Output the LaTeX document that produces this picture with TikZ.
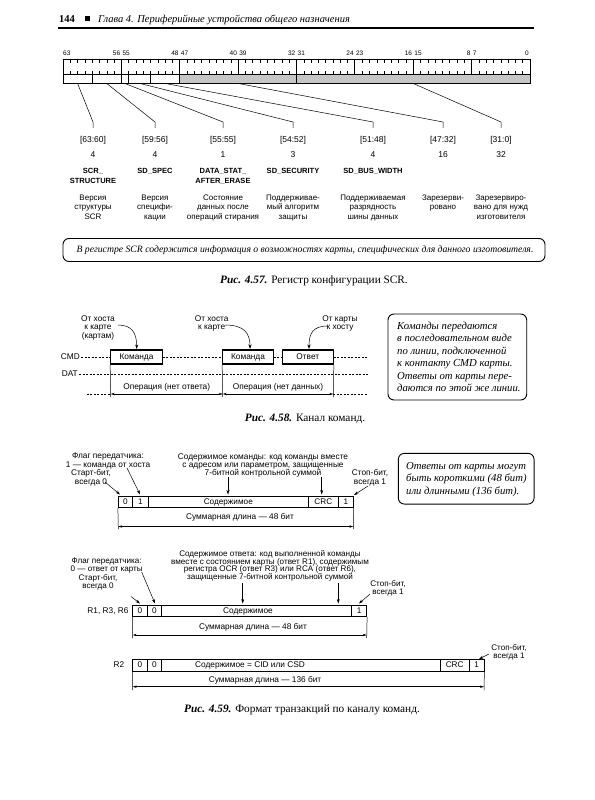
\documentclass[tikz,border=0pt]{standalone}
\usepackage{fontspec}
\setmainfont{Liberation Serif}
\setsansfont{Liberation Sans}
\usetikzlibrary{arrows.meta}
\begin{document}
\begin{tikzpicture}[x=1pt,y=-1pt,
  every node/.style={inner sep=0pt},
  sf/.style={font=\sffamily\fontsize{8.3}{8.3}\selectfont, align=center},
  sft/.style={font=\sffamily\fontsize{8.1}{7.7}\selectfont, align=center},
  bitno/.style={font=\sffamily\fontsize{6.5}{7}\selectfont},
  rng/.style={font=\sffamily\fontsize{8.5}{9}\selectfont},
  fname/.style={font=\sffamily\bfseries\fontsize{7.5}{9.8}\selectfont, align=center, anchor=north},
  desc/.style={font=\sffamily\fontsize{8}{9.4}\selectfont, align=center, anchor=north},
  notebox/.style={draw, line width=0.9pt, rounded corners=6pt},
  notetext/.style={font=\itshape\fontsize{10.7}{12.5}\selectfont, align=left},
  captext/.style={font=\fontsize{11.3}{13}\selectfont},
  tip/.style={-{Stealth[length=4.5pt,width=3pt]}, line width=0.5pt},
  dim/.style={{Stealth[length=4pt,width=2.4pt]}-{Stealth[length=4pt,width=2.4pt]}, line width=0.5pt},
  cellbox/.style={draw, line width=0.8pt, minimum height=11.5pt, font=\sffamily\fontsize{8.2}{9}\selectfont},
  regline/.style={line width=1pt},
  dline/.style={dash pattern=on 2pt off 1.5pt, line width=0.5pt},
  sigbox/.style={draw, line width=1.1pt, minimum height=14pt, font=\sffamily\fontsize{8.3}{9}\selectfont},
  thinl/.style={line width=0.5pt}
]
\useasboundingbox[fill=white] (0,0) rectangle (594,800);

% ---------- header ----------
\node[anchor=base west, font=\bfseries\fontsize{10.5}{12}\selectfont] (pgno) at (59,22.5) {144};
\node[fill=black, minimum size=5pt] (hsq) at (87,19) {};
\node[anchor=base west, font=\itshape\fontsize{10.5}{12}\selectfont] (htitle) at (98,22.5) {Глава 4. Периферийные устройства общего назначения};
\coordinate (hl1) at (58,28);
\coordinate (hl2) at (534,28);
\draw[line width=1.2pt] (hl1) -- (hl2);

% ---------- Fig 4.57 register ----------
\def\RL{63}\def\RR{530}\def\RT{60}\def\RM{74.3}\def\RB{83}
\fill[gray!45] (179.8,\RM) rectangle (\RR,\RB);
\draw[regline] (\RL,\RT) rectangle (\RR,\RB);
\draw[regline] (\RL,\RM) -- (\RR,\RM);
\foreach \i in {1,...,7} \draw[regline] ({\RL+\i*58.375},\RT) -- ({\RL+\i*58.375},\RM);
\foreach \j in {1,...,63}{\pgfmathtruncatemacro\m{mod(\j,8)}\ifnum\m>0
  \draw[thinl] ({\RL+\j*7.2969},\RT) -- ++(0,3) ({\RL+\j*7.2969},\RM) -- ++(0,-3);\fi}
\foreach \j in {4,8,9,12,16,32} \draw[line width=0.7pt] ({\RL+\j*7.2969},\RM) -- ({\RL+\j*7.2969},\RB);

\node[bitno, anchor=west] (bn63) at (63,53) {63};
\foreach \i/\a/\b in {1/56/55, 2/48/47, 3/40/39, 4/32/31, 5/24/23, 6/16/15, 7/8/7}{
  \node[bitno, anchor=east] (bn\a) at ({\RL+\i*58.375-1},53) {\a};
  \node[bitno, anchor=west] (bn\b) at ({\RL+\i*58.375+1},53) {\b};}
\node[bitno, anchor=east] (bn0) at (529,53) {0};

\foreach \i/\fx/\cx/\rg/\sz in {1/77.6/93/{[63:60]}/4, 2/106.8/155/{[59:56]}/4, 3/125.0/223/{[55:55]}/1,
   4/140.2/293/{[54:52]}/3, 5/165.4/373/{[51:48]}/4, 6/238.3/443/{[47:32]}/16, 7/413.3/501/{[31:0]}/32}{
  \coordinate (s\i) at (\fx,83.5);
  \coordinate (k\i) at (\cx,122);
  \coordinate (h\i) at (\cx,128);
  \draw[thinl] (s\i) -- (k\i) -- (h\i);
  \node[rng] (r\i) at (\cx,140) {\rg};
  \node[rng] (z\i) at (\cx,155) {\sz};
}
\node[fname] (n1) at (93,168.5) {SCR\_\\STRUCTURE};
\node[fname] (n2) at (155,168.5) {SD\_SPEC};
\node[fname] (n3) at (223,168.5) {DATA\_STAT\_\\AFTER\_ERASE};
\node[fname] (n4) at (293,168.5) {SD\_SECURITY};
\node[fname] (n5) at (373,168.5) {SD\_BUS\_WIDTH};

\node[desc] (d1) at (93,194.5) {Версия\\структуры\\SCR};
\node[desc] (d2) at (155,194.5) {Версия\\специфи-\\кации};
\node[desc] (d3) at (223,194.5) {Состояние\\данных после\\операций стирания};
\node[desc] (d4) at (293,194.5) {Поддерживае-\\мый алгоритм\\защиты};
\node[desc] (d5) at (373,194.5) {Поддерживаемая\\разрядность\\шины данных};
\node[desc] (d6) at (443,194.5) {Зарезерви-\\ровано};
\node[desc] (d7) at (501,194.5) {Зарезервиро-\\вано для нужд\\изготовителя};

\node[notebox, minimum width=482pt, minimum height=23pt] (nb57) at (304,250) {};
\node[font=\itshape\fontsize{9.7}{11}\selectfont] (nt57) at (305,250) {В регистре SCR содержится информация о возможностях карты, специфических для данного изготовителя.};
\node[captext] (c57) at (314,281) {\textbf{\textit{Рис. 4.57.}} Регистр конфигурации SCR.};

% ---------- Fig 4.58 ----------
\node[sf, anchor=east] (cmd) at (80,357) {CMD};
\node[sigbox, minimum width=51.6pt] (cb1) at (136.5,357) {Команда};
\node[sigbox, minimum width=50.6pt] (cb2) at (248,357) {Команда};
\node[sigbox, minimum width=51pt] (cb3) at (307.8,357) {Ответ};
\coordinate (cmdE) at (368,357);
\draw[dline] ([xshift=1pt]cmd.east) -- (cb1.west) (cb1.east) -- (cb2.west) (cb2.east) -- (cb3.west) (cb3.east) -- (cmdE);
\node[sf, anchor=east] (dat) at (78,374) {DAT};
\coordinate (datE) at (368,374);
\draw[dline] ([xshift=1pt]dat.east) -- (datE);
\coordinate (v1) at (110.7,397);
\coordinate (v2) at (222.7,397);
\coordinate (v3) at (333.3,397);
\draw[thinl] (cb1.south west) -- (v1) (cb2.south west) -- (v2) (cb3.south east) -- (v3);
\coordinate (o0) at (86.7,394);
\coordinate (o1) at (110.7,394);
\coordinate (o2) at (222.7,394);
\coordinate (o3) at (333.3,394);
\coordinate (o4) at (368,394);
\draw[dline] (o0) -- (o1) (o3) -- (o4);
\draw[dim] (o1) -- (o2);
\draw[dim] (o2) -- (o3);
\node[sf] (op1) at (166.7,387) {Операция (нет ответа)};
\node[sf] (op2) at (278,387) {Операция (нет данных)};
\node[sf, anchor=north] (hk1) at (98,315.5) {От хоста\\к карте\\(картам)};
\node[sf, anchor=north] (hk2) at (211.7,315.5) {От хоста\\к карте};
\node[sf, anchor=north] (kh) at (340,315.5) {От карты\\к хосту};
\coordinate (q1s) at (118,325); \coordinate (q1e) at (136.7,349);
\coordinate (q2s) at (225,325); \coordinate (q2e) at (250,349);
\coordinate (q3s) at (328,326); \coordinate (q3e) at (309,349);
\draw[tip] (q1s) .. controls (132,325) and (136.7,333) .. (q1e);
\draw[tip] (q2s) .. controls (244,325) and (250,333) .. (q2e);
\draw[tip] (q3s) .. controls (313,326) and (309,333) .. (q3e);
\node[notebox, minimum width=138.7pt, minimum height=86pt] (nb58) at (457.35,357) {};
\node[notetext, anchor=north west] (nt58) at (397,321.5) {Команды передаются\\в последовательном виде\\по линии, подключенной\\к контакту CMD карты.\\Ответы от карты пере-\\даются по этой же линии.};
\node[captext] (c58) at (305,419) {\textbf{\textit{Рис. 4.58.}} Канал команд.};

% ---------- Fig 4.59 command ----------
\node[sf, anchor=north] (t1) at (108,453) {Флаг передатчика:\\1 — команда от хоста};
\node[sf, anchor=north] (t2) at (91,469.7) {Старт-бит,\\всегда 0};
\node[sf, anchor=north] (t3) at (263,453) {Содержимое команды: код команды вместе\\с адресом или параметром, защищенные\\7-битной контрольной суммой};
\node[sf, anchor=north] (t4) at (370,469.7) {Стоп-бит,\\всегда 1};
\node[cellbox, minimum width=14pt] (f1a) at (125.3,502) {0};
\node[cellbox, minimum width=16pt] (f1b) at (140.3,502) {1};
\node[cellbox, minimum width=160pt] (f1c) at (228.3,502) {Содержимое};
\node[cellbox, minimum width=30pt] (f1d) at (323.3,502) {CRC};
\node[cellbox, minimum width=15pt] (f1e) at (345.8,502) {1};
\coordinate (u1s) at (105,482); \coordinate (u1e) at (120,494.5);
\coordinate (u2s) at (127,468); \coordinate (u2e) at (140,494.5);
\coordinate (u3s) at (228,477); \coordinate (u3e) at (228,494.5);
\coordinate (u4s) at (321.7,477); \coordinate (u4e) at (321.7,494.5);
\coordinate (u5s) at (368,486); \coordinate (u5e) at (354,495);
\foreach \k in {1,...,5} \draw[tip] (u\k s) -- (u\k e);
\coordinate (w1l) at (118.3,529); \coordinate (w1r) at (353.3,529);
\draw[thinl] (f1a.south west) -- (w1l) (f1e.south east) -- (w1r);
\coordinate (m1l) at (118.3,526.5); \coordinate (m1r) at (353.3,526.5);
\draw[dim] (m1l) -- (m1r);
\node[sf] (L1) at (240,517.5) {Суммарная длина — 48 бит};
\node[notebox, minimum width=135.7pt, minimum height=50.7pt] (nb59) at (466.2,478.7) {};
\node[notetext, anchor=north west] (nt59) at (406,462) {Ответы от карты могут\\быть короткими (48 бит)\\или длинными (136 бит).};

% ---------- Fig 4.59 response R1 ----------
\node[sft, anchor=north] (t5) at (106.7,557.7) {Флаг передатчика:\\0 — ответ от карты};
\node[sft, anchor=north] (t6) at (98,574.3) {Старт-бит,\\всегда 0};
\node[sft, anchor=north] (t7) at (270,550.3) {Содержимое ответа: код выполненной команды\\вместе с состоянием карты (ответ R1), содержимым\\регистра OCR (ответ R3) или RCA (ответ R6),\\защищенные 7-битной контрольной суммой};
\node[sft, anchor=north] (t8) at (388,580.3) {Стоп-бит,\\всегда 1};
\node[sf] (rl1) at (108,611.5) {R1, R3, R6};
\node[cellbox, minimum width=14.6pt] (f2a) at (140,611) {0};
\node[cellbox, minimum width=14.4pt] (f2b) at (154.5,611) {0};
\node[cellbox, minimum width=190pt] (f2c) at (256.7,611) {};
\node[sf] (f2t) at (248,611) {Содержимое};
\node[cellbox, minimum width=15pt] (f2d) at (359.2,611) {1};
\coordinate (p1s) at (131,596.5); \coordinate (p1e) at (140,603.5);
\coordinate (p2s) at (141.7,572); \coordinate (p2e) at (155,603.5);
\coordinate (p3s) at (242.7,583); \coordinate (p3e) at (242.7,603.5);
\coordinate (p4s) at (338.3,583); \coordinate (p4e) at (338.3,603.5);
\coordinate (p5s) at (370,594); \coordinate (p5e) at (359,603.5);
\foreach \k in {1,...,5} \draw[tip] (p\k s) -- (p\k e);
\coordinate (w2l) at (132.7,638); \coordinate (w2r) at (366.7,638);
\draw[thinl] (f2a.south west) -- (w2l) (f2d.south east) -- (w2r);
\coordinate (m2l) at (132.7,635); \coordinate (m2r) at (366.7,635);
\draw[dim] (m2l) -- (m2r);
\node[sf] (L2) at (253,627) {Суммарная длина — 48 бит};

% ---------- Fig 4.59 response R2 ----------
\node[sft, anchor=north] (t9) at (509,644.5) {Стоп-бит,\\всегда 1};
\coordinate (g1s) at (489,654); \coordinate (g1e) at (479,659);
\draw[tip] (g1s) -- (g1e);
\node[sf] (rl2) at (119,665) {R2};
\node[cellbox, minimum width=14.6pt, minimum height=12pt] (f3a) at (140,665) {0};
\node[cellbox, minimum width=14.4pt, minimum height=12pt] (f3b) at (154.5,665) {0};
\node[cellbox, minimum width=278.3pt, minimum height=12pt] (f3c) at (300.85,665) {};
\node[sf] (f3t) at (250,665) {Содержимое = CID или CSD};
\node[cellbox, minimum width=29.3pt, minimum height=12pt] (f3d) at (454.65,665) {CRC};
\node[cellbox, minimum width=14.7pt, minimum height=12pt] (f3e) at (476.65,665) {1};
\coordinate (w3l) at (132.7,690); \coordinate (w3r) at (484,690);
\draw[thinl] (f3a.south west) -- (w3l) (f3e.south east) -- (w3r);
\coordinate (m3l) at (132.7,686.7); \coordinate (m3r) at (484,686.7);
\draw[dim] (m3l) -- (m3r);
\node[sf] (L3) at (265,680) {Суммарная длина — 136 бит};
\node[captext] (c59) at (302,710) {\textbf{\textit{Рис. 4.59.}} Формат транзакций по каналу команд.};
\end{tikzpicture}
\end{document}
